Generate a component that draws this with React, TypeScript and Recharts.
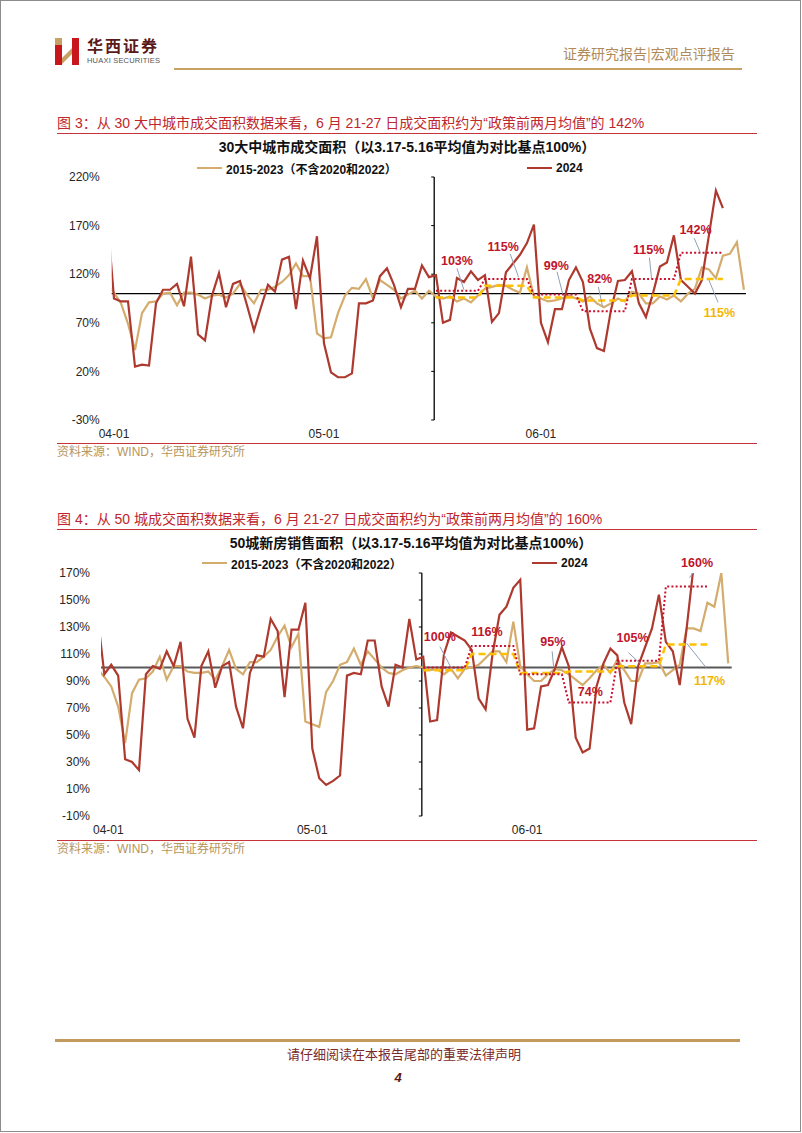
import React from "react";
import { LineChart, Line, XAxis, YAxis, ReferenceLine, ReferenceDot } from "recharts";

// x axis is in days from 04-01 (day -1 = 03-31)
const firstDay = -1;
const tickDays = [0, 30, 61];
const tickLabels = ["04-01", "05-01", "06-01"];
const weekStarts = [46, 53, 60, 67, 74, 81];
const weekLen = 7;

// 30 cities, % of the 3.17-5.16 average
const city30Y2024 = [
  183, 95, 92, 92, 25, 27, 26, 90, 104, 104, 110, 87, 138, 58, 52, 98, 121, 86, 110, 113, 88,
  62, 86, 109, 102, 135, 138, 84, 134, 116, 159, 49, 19, 14, 14, 18, 90, 90, 93, 118, 126,
  109, 86, 105, 105, 129, 117, 119, 70, 73, 116, 112, 123, 114, 119, 71, 80, 122, 131, 140,
  152, 171, 70, 50, 84, 84, 114, 127, 112, 64, 44, 41, 83, 113, 114, 123, 90, 76, 100, 128,
  132, 160, 114, 107, 100, 114, 160, 206, 188,
];
const city30Hist = [
  110, 101, 90, 69, 42, 80, 91, 92, 100, 101, 88, 101, 101, 99, 95, 98, 99, 96, 100, 110, 99,
  90, 104, 104, 107, 112, 119, 131, 118, 118, 59, 54, 55, 80, 98, 106, 105, 115, 95, 114, 109,
  104, 95, 99, 103, 95, 103, 97, 95, 97, 92, 95, 91, 98, 105, 107, 109, 108, 104, 101, 127,
  97, 95, 92, 93, 95, 98, 95, 92, 97, 90, 86, 90, 95, 92, 102, 100, 90, 90, 97, 94, 98, 92,
  100, 105, 127, 125, 116, 139, 141, 153, 104,
];
const city30Weekly2024 = [103, 115, 99, 82, 115, 142];
const city30WeeklyHist = [96, 108, 96, 93, 98, 115];

// 50 cities
const city50Y2024 = [
  140, 95, 102, 94, 32, 30, 24, 95, 101, 99, 112, 101, 119, 62, 48, 101, 112, 85, 101, 104, 71,
  55, 96, 109, 108, 136, 127, 78, 128, 128, 148, 40, 18, 13, 16, 20, 94, 96, 95, 120, 120, 86,
  71, 102, 100, 136, 106, 108, 60, 61, 110, 126, 123, 120, 113, 77, 69, 110, 139, 145, 159,
  165, 54, 55, 86, 87, 99, 115, 101, 48, 37, 40, 86, 103, 114, 109, 74, 58, 101, 115, 129,
  154, 119, 112, 87, 129, 175, 245, 253,
];
const city50Hist = [
  99, 93, 86, 71, 44, 81, 91, 92, 97, 108, 91, 101, 101, 97, 96, 96, 97, 91, 101, 113, 99, 95,
  104, 104, 108, 113, 123, 131, 115, 125, 60, 58, 56, 82, 90, 102, 104, 114, 102, 112, 106,
  100, 96, 95, 98, 100, 101, 100, 98, 99, 95, 99, 92, 99, 100, 102, 107, 112, 112, 104, 134,
  101, 95, 90, 90, 95, 99, 98, 95, 91, 87, 92, 98, 102, 96, 106, 98, 90, 90, 103, 103, 104,
  94, 98, 102, 129, 129, 127, 148, 145, 170, 103,
];
const city50Weekly2024 = [100, 116, 95, 74, 105, 160];
const city50WeeklyHist = [98, 110, 96, 97, 101, 117];

const series = [
  { key: "hist", name: "2015-2023（不含2020和2022）", color: "#D4AC6E" },
  { key: "y2024", name: "2024", color: "#AE3A2F" },
];

const RED_DOT = "#C8102E";
const GOLD = "#FFC000";
const LABEL_RED = "#C0142C";
const LABEL_GOLD = "#F2B600";
const LEADER = "#8EA0B5";
const FONT = "'Liberation Sans', Arial, 'Noto Sans CJK SC', sans-serif";
const CJK = "'Noto Sans CJK SC', sans-serif";

type Note = { text: string; d: number; v: number; gold?: boolean; leader?: number[] };

const city30Notes: Note[] = [
  { text: "103%", d: 49, v: 134.5, leader: [49, 126, 50, 104] },
  { text: "115%", d: 55.6, v: 148, leader: [56.6, 141, 57.8, 117] },
  { text: "99%", d: 63.2, v: 129, leader: [63.3, 122.5, 64.1, 100] },
  { text: "82%", d: 69.4, v: 115.7, leader: [69.2, 107, 69.8, 87] },
  { text: "115%", d: 76.4, v: 145.6, leader: [76.5, 137, 76.8, 116] },
  { text: "142%", d: 83.1, v: 166.2, leader: [82.9, 157, 83.8, 142] },
  { text: "115%", d: 86.5, v: 81, gold: true, leader: [86.3, 91, 85, 114] },
];

const city50Notes: Note[] = [
  { text: "100%", d: 48.4, v: 122.8, leader: [48.4, 115.5, 49.9, 101] },
  { text: "116%", d: 55.2, v: 126.5 },
  { text: "95%", d: 64.7, v: 119, leader: [64.6, 112, 64.8, 101] },
  { text: "74%", d: 70.1, v: 82 },
  { text: "105%", d: 76.2, v: 122, leader: [75.6, 111, 77.3, 103] },
  { text: "160%", d: 85.5, v: 177.5, leader: [84.4, 166.5, 84.9, 170] },
  { text: "117%", d: 87.3, v: 90, gold: true, leader: [84, 118, 86.8, 100] },
];

function buildRows(y2024: number[], hist: number[], w2024: number[], wHist: number[]) {
  const rows: any[] = [];
  const last = firstDay + Math.max(y2024.length, hist.length) - 1;
  for (let d = firstDay; d <= last; d++) {
    const i = d - firstDay;
    const wk = weekStarts.findIndex((s) => d >= s && d < s + weekLen);
    rows.push({
      d,
      y2024: i < y2024.length ? y2024[i] : null,
      hist: i < hist.length ? hist[i] : null,
      avg2024: wk >= 0 ? w2024[wk] : null,
      avgHist: wk >= 0 ? wHist[wk] : null,
    });
  }
  return rows;
}

// the second vertical axis at 5.17, with a mark at every y tick
const axisShape = (n: number) => (props: any) => {
  const { x1, y1, x2, y2 } = props;
  const marks = Array.from({ length: n + 1 }, (_, i) => y1 + ((y2 - y1) * i) / n);
  return (
    <g>
      <line x1={x1} y1={y1} x2={x2} y2={y2} stroke="#000" strokeWidth={1.3} />
      {marks.map((ty, i) => (
        <line key={i} x1={x1 - 3} x2={x1} y1={ty} y2={ty} stroke="#000" strokeWidth={1} />
      ))}
    </g>
  );
};

interface PanelProps {
  top: number;
  rows: any[];
  xDomain: number[];
  yDomain: number[];
  yTicks: number[];
  margin: { top: number; right: number; bottom: number; left: number };
  baseColor: string;
  baseWidth: number;
  notes: Note[];
  splitDay: number;
  yTickMargin: number;
  firstTickShift: number;
}

const XTick = ({ x, y, payload, shift }: any) => (
  <text
    x={x + (payload.value === 0 ? shift : 0)}
    y={y}
    dy="0.71em"
    textAnchor="middle"
    fontSize={12}
    fontFamily={FONT}
    fill="#262626"
  >
    {tickLabels[tickDays.indexOf(payload.value)]}
  </text>
);

const Panel = ({
  top,
  rows,
  xDomain,
  yDomain,
  yTicks,
  margin,
  baseColor,
  baseWidth,
  notes,
  splitDay,
  yTickMargin,
  firstTickShift,
}: PanelProps) => (
  <div style={{ position: "absolute", left: 0, top }}>
    <LineChart width={802} height={300} data={rows} margin={margin}>
      <XAxis
        type="number"
        dataKey="d"
        domain={xDomain}
        allowDataOverflow
        ticks={tickDays}
        interval={0}
        axisLine={false}
        tickLine={false}
        height={20}
        tickMargin={3}
        tick={<XTick shift={firstTickShift} />}
      />
      <YAxis
        type="number"
        domain={yDomain}
        allowDataOverflow
        ticks={yTicks}
        interval={0}
        axisLine={false}
        tickLine={false}
        width={60}
        tickMargin={yTickMargin}
        tickFormatter={(v: number) => `${v}%`}
        tick={{ fontSize: 12, fontFamily: FONT, fill: "#262626" }}
      />
      <ReferenceLine y={100} stroke={baseColor} strokeWidth={baseWidth} />
      <ReferenceLine x={splitDay} shape={axisShape(yTicks.length - 1)} />
      {series.map((s) => (
        <Line
          key={s.key}
          type="linear"
          dataKey={s.key}
          name={s.name}
          stroke={s.color}
          strokeWidth={2.2}
          dot={false}
          activeDot={false}
          isAnimationActive={false}
        />
      ))}
      <Line
        type="linear"
        dataKey="avgHist"
        stroke={GOLD}
        strokeWidth={2.5}
        strokeDasharray="7 4"
        dot={false}
        activeDot={false}
        legendType="none"
        isAnimationActive={false}
      />
      <Line
        type="linear"
        dataKey="avg2024"
        stroke={RED_DOT}
        strokeWidth={2}
        strokeDasharray="2 2.2"
        dot={false}
        activeDot={false}
        legendType="none"
        isAnimationActive={false}
      />
      {notes
        .filter((n) => n.leader)
        .map((n, i) => (
          <ReferenceLine
            key={`l${i}`}
            ifOverflow="visible"
            stroke={LEADER}
            strokeWidth={1}
            segment={[
              { x: n.leader![0], y: n.leader![1] },
              { x: n.leader![2], y: n.leader![3] },
            ]}
          />
        ))}
      {notes.map((n, i) => (
        <ReferenceDot
          key={`n${i}`}
          x={n.d}
          y={n.v}
          r={0}
          fill="none"
          stroke="none"
          ifOverflow="visible"
          label={{
            value: n.text,
            position: "center",
            fill: n.gold ? LABEL_GOLD : LABEL_RED,
            fontSize: 12.5,
            fontWeight: 700,
            fontFamily: FONT,
          }}
        />
      ))}
    </LineChart>
  </div>
);

const LegendRow = ({ top, xs }: { top: number; xs: number[] }) => (
  <>
    {series.map((s, i) => (
      <div
        key={s.key}
        style={{
          position: "absolute",
          left: xs[i],
          top: top - 9,
          height: 18,
          display: "flex",
          alignItems: "center",
          whiteSpace: "nowrap",
          fontFamily: FONT,
          fontSize: 12,
          fontWeight: 700,
          color: "#111",
        }}
      >
        <span style={{ display: "inline-block", width: 25, height: 2, background: s.color, marginRight: 4 }} />
        {s.name}
      </div>
    ))}
  </>
);

const abs = (o: React.CSSProperties): React.CSSProperties => ({ position: "absolute", ...o });

const FigureTitle = ({ top, text }: { top: number; text: string }) => (
  <>
    <div style={abs({ left: 57, top: top - 10, fontSize: 14, lineHeight: "20px", color: "#C0262D", whiteSpace: "nowrap", fontFamily: FONT })}>
      {text}
    </div>
    <div style={abs({ left: 57, top: top + 10, width: 700, height: 1, background: "#C8323A" })} />
  </>
);

const Source = ({ top }: { top: number }) => (
  <>
    <div style={abs({ left: 57, top, width: 700, height: 1, background: "#C8323A" })} />
    <div style={abs({ left: 57, top: top + 1, fontSize: 12, lineHeight: "16px", color: "#B8955C", whiteSpace: "nowrap", fontFamily: FONT })}>
      资料来源：WIND，华西证券研究所
    </div>
  </>
);

const ChartTitle = ({ cx, cy, text }: { cx: number; cy: number; text: string }) => (
  <div
    style={abs({
      left: cx,
      top: cy - 10,
      transform: "translateX(-50%)",
      fontSize: 14,
      lineHeight: "20px",
      fontWeight: 700,
      whiteSpace: "nowrap",
      color: "#111",
      fontFamily: FONT,
    })}
  >
    {text}
  </div>
);

export default function App() {
  const rows30 = buildRows(city30Y2024, city30Hist, city30Weekly2024, city30WeeklyHist);
  const rows50 = buildRows(city50Y2024, city50Hist, city50Weekly2024, city50WeeklyHist);
  return (
    <div style={abs({ left: 0, top: 0, width: 802, height: 1133, background: "#fff", overflow: "hidden" })}>
      <div style={abs({ left: 0, top: 0, width: 801, height: 1132, border: "1px solid #8c8c8c", boxSizing: "border-box" })} />

      {/* header */}
      <svg style={abs({ left: 53, top: 36 })} width={30} height={32}>
        <rect x={2} y={2} width={7} height={7} fill="#C9A063" />
        <rect x={2} y={9} width={7} height={20} fill="#C8161D" />
        <rect x={19} y={2} width={7} height={27} fill="#C8161D" />
        <polygon points="9,22 19,12 19,18 9,28" fill="#C9A063" />
      </svg>
      <div style={abs({ left: 87, top: 37, fontSize: 16, lineHeight: "16px", fontWeight: 700, color: "#5a1a1a", fontFamily: CJK, letterSpacing: 2, whiteSpace: "nowrap" })}>
        华西证券
      </div>
      <div style={abs({ left: 87, top: 57, fontSize: 7.5, lineHeight: "8px", color: "#555", fontFamily: FONT, letterSpacing: 0.2, whiteSpace: "nowrap" })}>
        HUAXI SECURITIES
      </div>
      <div style={abs({ left: 563, top: 44, fontSize: 14, lineHeight: "18px", color: "#B08A58", fontFamily: CJK, whiteSpace: "nowrap" })}>
        证券研究报告|宏观点评报告
      </div>
      <div style={abs({ left: 174, top: 68, width: 568, height: 2, background: "#C8A165" })} />

      {/* figure 3 */}
      <FigureTitle top={123} text="图 3：从 30 大中城市成交面积数据来看，6 月 21-27 日成交面积约为“政策前两月均值”的 142%" />
      <ChartTitle cx={407} cy={147} text="30大中城市成交面积（以3.17-5.16平均值为对比基点100%）" />
      <LegendRow top={168} xs={[197, 527]} />
      <Panel
        top={140}
        rows={rows30}
        xDomain={[-0.33, 90.3]}
        yDomain={[-30, 220]}
        yTicks={[-30, 20, 70, 120, 170, 220]}
        margin={{ top: 37, right: 56, bottom: 0, left: 51.7 }}
        baseColor="#000"
        baseWidth={1.3}
        notes={city30Notes}
        splitDay={45.75}
        yTickMargin={6}
        firstTickShift={0}
      />
      <Source top={443} />

      {/* figure 4 */}
      <FigureTitle top={519} text="图 4：从 50 城成交面积数据来看，6 月 21-27 日成交面积约为“政策前两月均值”的 160%" />
      <ChartTitle cx={411} cy={543} text="50城新房销售面积（以3.17-5.16平均值为对比基点100%）" />
      <LegendRow top={563} xs={[202, 532]} />
      <Panel
        top={536}
        rows={rows50}
        xDomain={[-0.48, 90.5]}
        yDomain={[-10, 170]}
        yTicks={[-10, 10, 30, 50, 70, 90, 110, 130, 150, 170]}
        margin={{ top: 37, right: 70.3, bottom: 0, left: 41 }}
        baseColor="#595959"
        baseWidth={2}
        notes={city50Notes}
        splitDay={45.8}
        yTickMargin={5}
        firstTickShift={4}
      />
      <Source top={840} />

      {/* footer */}
      <div style={abs({ left: 55, top: 1039, width: 685, height: 3, background: "#C39A5E" })} />
      <div style={abs({ left: 0, width: 808, top: 1045, lineHeight: "18px", textAlign: "center", fontSize: 13, color: "#7A2A2A", fontFamily: CJK })}>
        请仔细阅读在本报告尾部的重要法律声明
      </div>
      <div style={abs({ left: 0, width: 796, top: 1070, lineHeight: "16px", textAlign: "center", fontSize: 13, fontWeight: 700, fontStyle: "italic", color: "#5a1a1a", fontFamily: FONT })}>
        4
      </div>
    </div>
  );
}
